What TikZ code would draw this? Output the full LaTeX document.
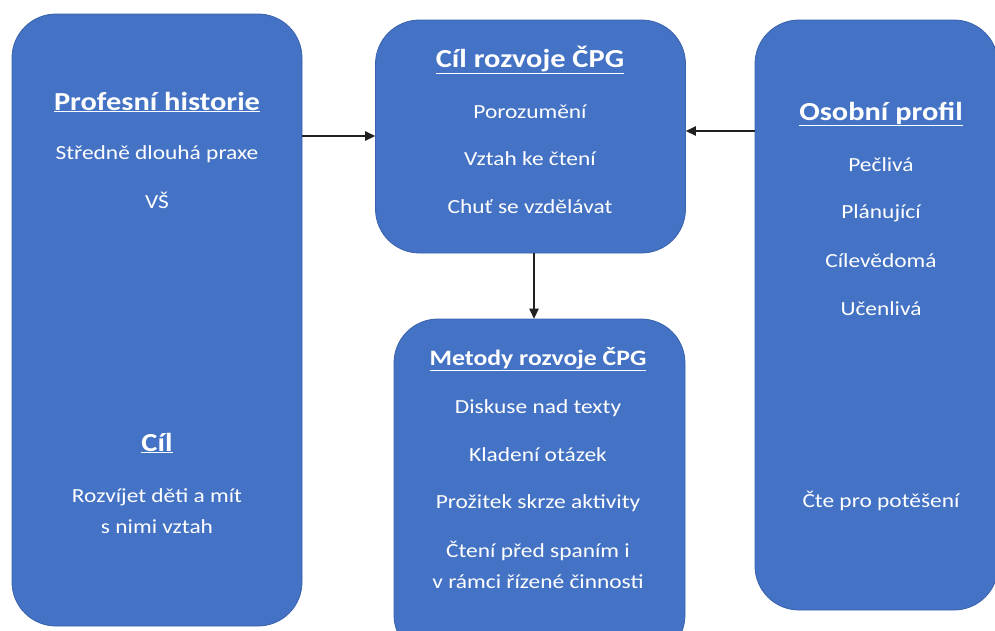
\documentclass[tikz,border=0pt]{standalone}
\usepackage{fontspec}
\setmainfont{Carlito}[FakeStretch=1.17]
\usetikzlibrary{arrows.meta}
\definecolor{boxblue}{HTML}{4472C4}
\definecolor{boxedge}{HTML}{3A62AC}
\definecolor{linkink}{HTML}{202020}

\begin{document}
\begin{tikzpicture}[x=1pt,y=-1pt,
  panel/.style={draw=boxedge, line width=0.8pt, fill=boxblue,
    rounded corners=44pt, inner sep=0pt},
  head/.style={text=white, inner sep=0pt,
    font=\fontsize{26}{30}\selectfont\bfseries},
  subhead/.style={head, font=\fontsize{22}{26}\selectfont\bfseries},
  item/.style={text=white, inner sep=0pt, align=center,
    font=\fontsize{20}{31}\selectfont},
  link/.style={-{Triangle[length=10pt,width=9.5pt]}, line width=1.2pt, linkink}]
\useasboundingbox (0,0) rectangle (995,630);

% rounded panels
\node[panel, minimum width=290pt, minimum height=612pt] (hist) at (157,320) {};
\node[panel, minimum width=310pt, minimum height=233pt] (goal) at (530.5,136.5) {};
\node[panel, minimum width=243pt, minimum height=590pt] (prof) at (876.5,315) {};
\node[panel, minimum width=291pt, minimum height=340pt] (meth) at (539.5,489) {};

% professional history
\node[head] (histT) at (157,102) {\underline{Profesní historie}};
\node[item] (hist1) at (157,154) {Středně dlouhá praxe};
\node[item] (hist2) at (157,200) {VŠ};
\node[head] (aimT) at (157,443) {\underline{Cíl}};
\node[item] (aim1) at (157,511) {Rozvíjet děti a mít\\s nimi vztah};

% development goal
\node[head] (goalT) at (530,60) {\underline{Cíl rozvoje ČPG}};
\node[item] (goal1) at (530,112) {Porozumění};
\node[item] (goal2) at (530,159) {Vztah ke čtení};
\node[item] (goal3) at (530,207) {Chuť se vzdělávat};

% personal profile
\node[head] (profT) at (881,114) {\underline{Osobní profil}};
\node[item] (prof1) at (881,165) {Pečlivá};
\node[item] (prof2) at (881,213) {Plánující};
\node[item] (prof3) at (881,261) {Cílevědomá};
\node[item] (prof4) at (881,309) {Učenlivá};
\node[item] (prof5) at (881,501) {Čte pro potěšení};

% methods
\node[subhead] (methT) at (538,359) {\underline{Metody rozvoje ČPG}};
\node[item] (meth1) at (538,408) {Diskuse nad texty};
\node[item] (meth2) at (538,455) {Kladení otázek};
\node[item] (meth3) at (538,503) {Prožitek skrze aktivity};
\node[item] (meth4) at (538,565) {Čtení před spaním i\\v rámci řízené činnosti};

% connectors
\draw[link] (hist.east |- 0,136) -- (goal.west |- 0,136);
\draw[link] (prof.west |- 0,131) -- (goal.east |- 0,131);
\draw[link] (goal.south -| 534,0) -- (meth.north -| 534,0);
\end{tikzpicture}
\end{document}
